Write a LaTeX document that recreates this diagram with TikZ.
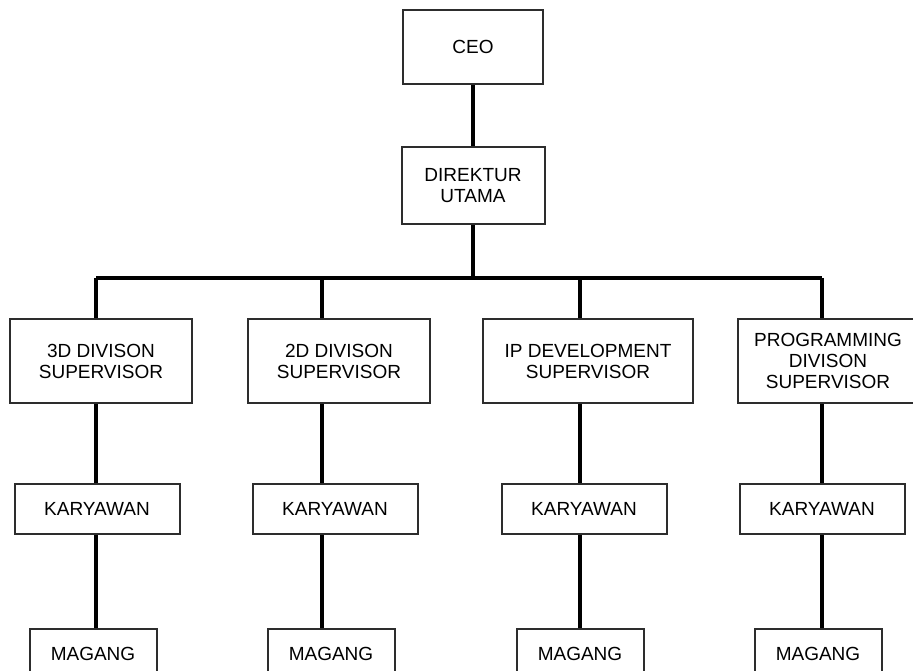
\documentclass[tikz,border=0pt]{standalone}
\usepackage{fontspec}
\setmainfont{Liberation Sans}
\usetikzlibrary{positioning}
\definecolor{boxgray}{RGB}{45,45,45}

\begin{document}
\begin{tikzpicture}[x=1pt,y=-1pt,node distance=148pt,on grid,
    every node/.style={font=\fontsize{19}{21}\selectfont},
    box/.style={draw=boxgray,line width=2pt,align=center,inner sep=0pt},
    sup/.style={box,minimum height=84pt},
    kary/.style={box,minimum width=165pt,minimum height=50pt,xshift=-4pt},
    mag/.style={box,minimum width=127pt,minimum height=50pt,xshift=-4pt},
    link/.style={line width=3.5pt}]
        \useasboundingbox (0,0) rectangle (913,670);

        \node[box,minimum width=140pt,minimum height=74pt]  (ceo) at (473,47)    {CEO};
        \node[box,minimum width=143pt,minimum height=77pt]  (dir) at (473,185.5) {DIREKTUR\\UTAMA};

        \node[sup,minimum width=182pt]  (s1) at (101,361)  {3D DIVISON\\SUPERVISOR};
        \node[sup,minimum width=182pt]  (s2) at (339,361)  {2D DIVISON\\SUPERVISOR};
        \node[sup,minimum width=210pt]  (s3) at (588,361)  {IP DEVELOPMENT\\SUPERVISOR};
        \node[sup,minimum width=180pt]  (s4) at (828,361)  {PROGRAMMING\\DIVISON\\SUPERVISOR};

        \node[kary]  (k1) [below of = s1]  {KARYAWAN};
        \node[kary]  (k2) [below of = s2]  {KARYAWAN};
        \node[kary]  (k3) [below of = s3]  {KARYAWAN};
        \node[kary]  (k4) [below of = s4, xshift=-2pt]  {KARYAWAN};

        \node[mag]   (m1) [below of = k1, node distance=145pt]  {MAGANG};
        \node[mag]   (m2) [below of = k2, node distance=145pt]  {MAGANG};
        \node[mag]   (m3) [below of = k3, node distance=145pt]  {MAGANG};
        \node[mag]   (m4) [below of = k4, node distance=145pt]  {MAGANG};

        % bus and columns
        \coordinate (bus) at (473,278);
        \coordinate (c1)  at (96,278);
        \coordinate (c2)  at (322,278);
        \coordinate (c3)  at (580,278);
        \coordinate (c4)  at (822,278);

        \path[link]
                (ceo) edge (dir)
                (dir) edge (bus)
                (c1)  edge (c4)
                (c1)  edge (c1 |- s1.north)
                (c2)  edge (c2 |- s2.north)
                (c3)  edge (c3 |- s3.north)
                (c4)  edge (c4 |- s4.north)
                (c1 |- s1.south) edge (c1 |- k1.north)
                (c2 |- s2.south) edge (c2 |- k2.north)
                (c3 |- s3.south) edge (c3 |- k3.north)
                (c4 |- s4.south) edge (c4 |- k4.north)
                (c1 |- k1.south) edge (c1 |- m1.north)
                (c2 |- k2.south) edge (c2 |- m2.north)
                (c3 |- k3.south) edge (c3 |- m3.north)
                (c4 |- k4.south) edge (c4 |- m4.north);

\end{tikzpicture}
\end{document}
